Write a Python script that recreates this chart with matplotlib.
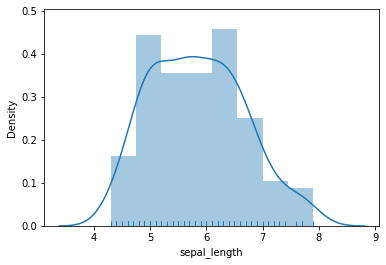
import numpy as np
import matplotlib
matplotlib.use("Agg")
import matplotlib.pyplot as plt
import seaborn as sns

# --- iris sepal_length: distinct values and how often each occurs ---
sepal_values = [4.3, 4.4, 4.5, 4.6, 4.7, 4.8, 4.9, 5.0, 5.1, 5.2,
                5.3, 5.4, 5.5, 5.6, 5.7, 5.8, 5.9, 6.0, 6.1, 6.2,
                6.3, 6.4, 6.5, 6.6, 6.7, 6.8, 6.9, 7.0, 7.1, 7.2,
                7.3, 7.4, 7.6, 7.7, 7.9]
sepal_counts = [1, 3, 1, 4, 2, 5, 6, 10, 9, 4,
                1, 6, 7, 6, 8, 7, 3, 6, 6, 4,
                9, 7, 5, 2, 8, 3, 4, 1, 1, 3,
                1, 1, 1, 4, 1]

sepal_length = np.repeat(sepal_values, sepal_counts)
n_bins = 8

fig = plt.figure(figsize=(386 / 72, 265 / 72), dpi=72)
ax = fig.add_subplot(111)
fig.subplots_adjust(left=0.114, right=0.982, top=0.966, bottom=0.147)

ax.hist(sepal_length, bins=n_bins, density=True, color="C0", alpha=0.4)
sns.kdeplot(x=sepal_length, ax=ax, color="C0", linewidth=1.5)
sns.rugplot(x=sepal_length, ax=ax, color="C0", height=0.025, linewidth=1)

ax.set_xlim(3.116, 9.07)
ax.set_ylim(0, 0.505)
ax.set_xlabel("sepal_length")
ax.set_ylabel("Density")

fig.savefig("out.png", dpi=72)
